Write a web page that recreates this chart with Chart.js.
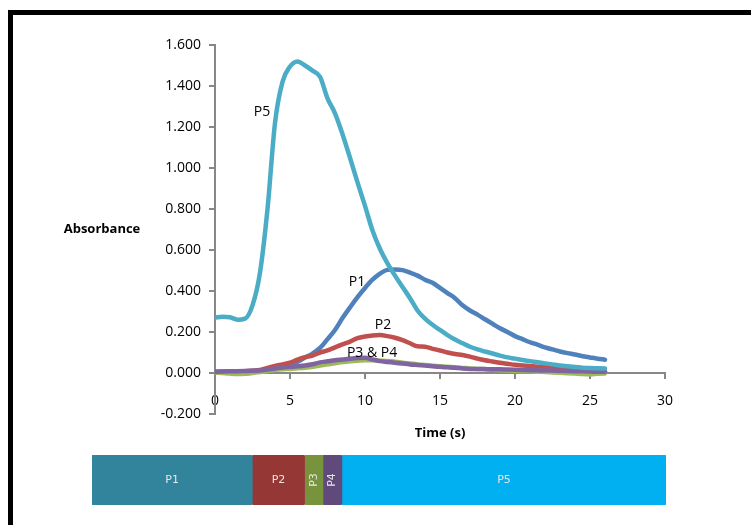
<!DOCTYPE html>
<html><head><meta charset="utf-8">
<script src="https://cdn.jsdelivr.net/npm/chart.js@4.4.1/dist/chart.umd.min.js"></script>
<style>
html,body{margin:0;padding:0;width:751px;height:525px;overflow:hidden;background:#fff;}
#frame{position:absolute;left:8px;top:10px;width:800px;height:600px;border:5px solid #000;box-sizing:border-box;}
#main{position:absolute;left:0;top:0;}
#band{position:absolute;left:92px;top:455px;}
</style></head><body>
<div id="frame"></div>
<canvas id="main" width="751" height="525"></canvas>
<canvas id="band" width="574" height="50"></canvas>
<script>
// ---- data ----
const time = [0,0.5,1,1.5,2,2.5,3,3.5,4,4.5,5,5.5,6,6.5,7,7.5,8,8.5,9,9.5,10,10.5,11,11.5,12,12.5,13,13.5,14,14.5,15,15.5,16,16.5,17,17.5,18,18.5,19,19.5,20,20.5,21,21.5,22,22.5,23,23.5,24,24.5,25,25.5,26];
const p1 = [0.005,0.006,0.007,0.008,0.009,0.010,0.012,0.016,0.022,0.030,0.040,0.055,0.075,0.095,0.122,0.165,0.210,0.268,0.320,0.370,0.415,0.455,0.485,0.503,0.505,0.502,0.490,0.475,0.455,0.440,0.415,0.390,0.365,0.330,0.305,0.285,0.262,0.240,0.218,0.200,0.180,0.165,0.150,0.138,0.125,0.115,0.105,0.097,0.090,0.082,0.076,0.070,0.065];
const p2 = [0.005,0.006,0.007,0.008,0.009,0.011,0.015,0.025,0.035,0.042,0.050,0.065,0.077,0.085,0.100,0.110,0.125,0.140,0.153,0.170,0.178,0.183,0.185,0.180,0.172,0.160,0.145,0.130,0.128,0.118,0.110,0.100,0.093,0.088,0.080,0.070,0.062,0.056,0.050,0.045,0.040,0.037,0.034,0.031,0.029,0.026,0.022,0.018,0.016,0.013,0.010,0.008,0.006];
const p3 = [0.003,0.000,-0.003,-0.005,-0.004,0.000,0.005,0.010,0.015,0.018,0.020,0.023,0.026,0.030,0.036,0.042,0.048,0.053,0.057,0.060,0.062,0.062,0.060,0.058,0.055,0.050,0.046,0.042,0.039,0.036,0.033,0.030,0.028,0.025,0.022,0.020,0.018,0.016,0.014,0.012,0.011,0.009,0.008,0.006,0.005,0.003,0.001,-0.001,-0.003,-0.005,-0.006,-0.004,-0.002];
const p4 = [0.006,0.007,0.008,0.009,0.010,0.011,0.012,0.017,0.022,0.027,0.030,0.033,0.037,0.043,0.052,0.057,0.062,0.066,0.070,0.073,0.074,0.066,0.058,0.054,0.050,0.046,0.042,0.039,0.036,0.033,0.030,0.028,0.026,0.022,0.020,0.020,0.019,0.018,0.018,0.017,0.016,0.015,0.014,0.013,0.012,0.012,0.011,0.010,0.009,0.008,0.007,0.006,0.006];
const p5 = [0.270,0.275,0.272,0.260,0.265,0.330,0.490,0.800,1.220,1.420,1.495,1.520,1.500,1.475,1.445,1.340,1.267,1.165,1.050,0.930,0.815,0.695,0.605,0.535,0.475,0.420,0.365,0.305,0.265,0.235,0.210,0.185,0.163,0.145,0.128,0.115,0.105,0.095,0.085,0.076,0.070,0.063,0.058,0.052,0.047,0.042,0.037,0.033,0.029,0.026,0.024,0.023,0.022];
const yTicks = [-0.2,0,0.2,0.4,0.6,0.8,1.0,1.2,1.4,1.6];
const xTicks = [0,5,10,15,20,25,30];
const fractions = ['P1','P2','P3','P4','P5'];
const fractionWidths = [27.9,9.1,3.2,3.3,56.4];

// ---- styles ----
const FONT = '"Open Sans", "Liberation Sans", sans-serif';
const series = [
  {name:'P5', values:p5, color:'#4BACC6'},
  {name:'P4', values:p4, color:'#8064A2'},
  {name:'P3', values:p3, color:'#9BBB59'},
  {name:'P2', values:p2, color:'#C0504D'},
  {name:'P1', values:p1, color:'#4F81BD'}
];
const fractionColors = ['#31849B','#953735','#77933C','#604A7B','#00B0F0'];
const seriesLabels = [
  {text:'P5', x:3.13, y:1.273},
  {text:'P1', x:9.47, y:0.444},
  {text:'P2', x:11.2, y:0.234},
  {text:'P3 & P4', x:10.47, y:0.098}
];

const textPlugin = {
  id:'texts',
  afterDraw(chart){
    const {ctx, scales:{x,y}} = chart;
    ctx.save();
    ctx.fillStyle = '#000';
    ctx.textAlign = 'center';
    ctx.textBaseline = 'middle';
    ctx.font = '14px ' + FONT;
    seriesLabels.forEach(l => ctx.fillText(l.text, x.getPixelForValue(l.x), y.getPixelForValue(l.y)));
    ctx.font = 'bold 13px ' + FONT;
    ctx.fillText('Absorbance', 102, (y.top + y.bottom) / 2);
    ctx.fillText('Time (s)', (x.left + x.right) / 2, 433);
    ctx.restore();
  }
};

const axisGrey = '#878787';
new Chart(document.getElementById('main'), {
  type:'line',
  data:{
    datasets: series.map(s => ({
      label:s.name,
      data: time.map((t,i) => ({x:t, y:s.values[i]})),
      borderColor:s.color,
      backgroundColor:s.color,
      borderWidth:4.5,
      pointRadius:0,
      cubicInterpolationMode:'monotone',
      borderCapStyle:'round',
      borderJoinStyle:'round',
      fill:false
    }))
  },
  options:{
    responsive:false,
    animation:false,
    devicePixelRatio:1,
    layout:{padding:{left:0, top:45, right:86, bottom:111}},
    plugins:{legend:{display:false}, tooltip:{enabled:false}},
    scales:{
      x:{
        type:'linear', min:0, max:30, position:{y:0},
        afterBuildTicks(s){ s.ticks = xTicks.map(v => ({value:v})); },
        ticks:{color:'#000', font:{family:FONT, size:14}, padding:15, maxRotation:0, autoSkip:false},
        grid:{drawOnChartArea:false, drawTicks:true, tickLength:5, color:axisGrey, lineWidth:2},
        border:{display:true, color:axisGrey, width:2}
      },
      y:{
        type:'linear', min:-0.2, max:1.6,
        afterBuildTicks(s){ s.ticks = yTicks.map(v => ({value:v})); },
        afterFit(s){ s.width = 215; },
        ticks:{color:'#000', font:{family:FONT, size:14}, padding:8, autoSkip:false,
          callback:v => (Math.abs(v) < 1e-9 ? 0 : v).toFixed(3)},
        grid:{drawOnChartArea:false, drawTicks:true, tickLength:6, color:axisGrey, lineWidth:2},
        border:{display:true, color:axisGrey, width:2}
      }
    }
  },
  plugins:[textPlugin]
});

// ---- fraction band ----
const bandTextPlugin = {
  id:'bandText',
  afterDatasetsDraw(chart){
    const ctx = chart.ctx;
    ctx.save();
    ctx.fillStyle = '#E6E6E6';
    ctx.font = '11px "DejaVu Sans", sans-serif';
    ctx.textAlign = 'center';
    ctx.textBaseline = 'middle';
    chart.data.datasets.forEach((d, i) => {
      const el = chart.getDatasetMeta(i).data[0];
      const cx = (el.x + el.base) / 2, cy = el.y;
      const w = Math.abs(el.x - el.base);
      ctx.save();
      ctx.translate(cx, cy);
      if (w < 30) ctx.rotate(-Math.PI / 2);
      ctx.fillText(d.label, 0, 0);
      ctx.restore();
    });
    ctx.restore();
  }
};
const total = fractionWidths.reduce((a,b) => a + b, 0);
new Chart(document.getElementById('band'), {
  type:'bar',
  data:{
    labels:[''],
    datasets: fractions.map((f,i) => ({
      label:f, data:[fractionWidths[i]], backgroundColor:fractionColors[i],
      borderRadius:{topLeft:2, topRight:2, bottomLeft:2, bottomRight:2}, borderSkipped:false,
      barPercentage:1, categoryPercentage:1
    }))
  },
  options:{
    indexAxis:'y', responsive:false, animation:false, devicePixelRatio:1,
    layout:{padding:0},
    plugins:{legend:{display:false}, tooltip:{enabled:false}},
    scales:{
      x:{stacked:true, min:0, max:total, display:false},
      y:{stacked:true, display:false}
    }
  },
  plugins:[bandTextPlugin]
});
</script>
</body></html>
